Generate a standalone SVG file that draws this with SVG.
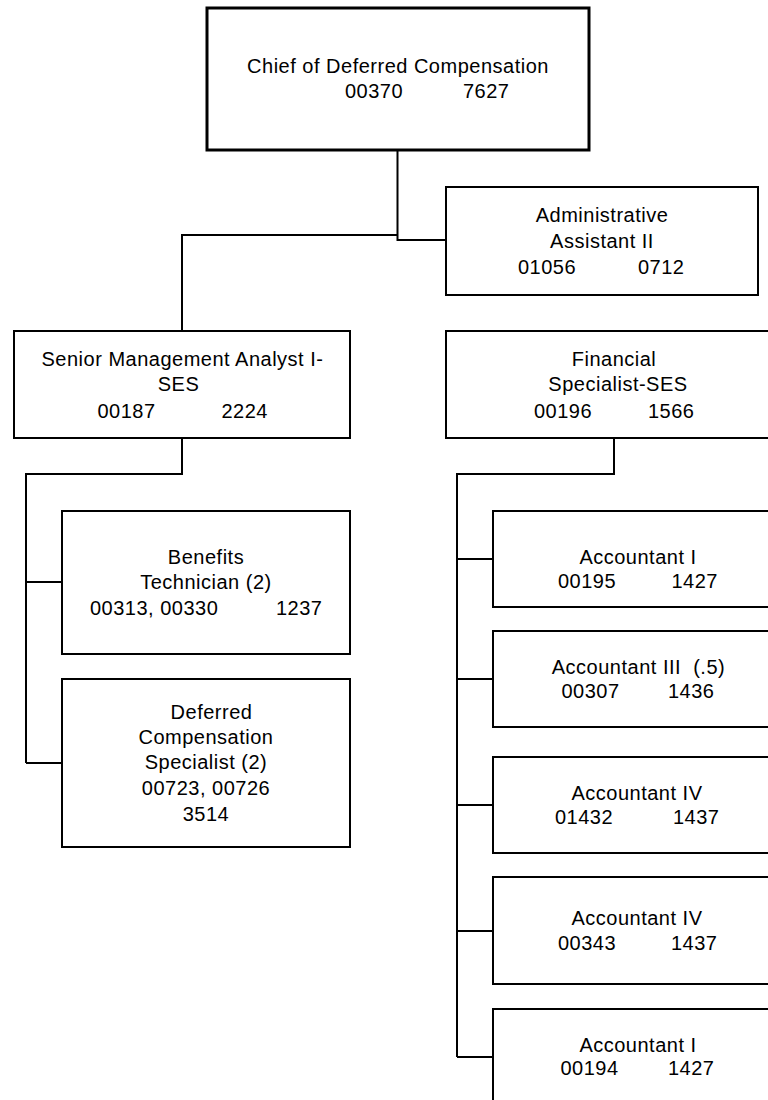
<svg xmlns="http://www.w3.org/2000/svg" width="768" height="1100" viewBox="0 0 768 1100">
  <style>
    .box { fill: #ffffff; stroke: #000000; stroke-width: 2; }
    .box-main { fill: #ffffff; stroke: #000000; stroke-width: 3; }
    .conn { fill: none; stroke: #000000; stroke-width: 2; }
    text { font-family: "Liberation Sans", Arial, sans-serif; font-size: 20px; letter-spacing: 0.5px; fill: #000000; }
    .c { text-anchor: middle; }
  </style>
  <rect width="768" height="1100" fill="#ffffff"/>

  <!-- reporting lines -->
  <g id="connectors">
    <path class="conn" d="M397.5 151 V240 H446"/>
    <path class="conn" d="M397.5 235 H182 V331"/>
    <path class="conn" d="M182 438 V474 H26 V763"/>
    <path class="conn" d="M26 582 H62"/>
    <path class="conn" d="M26 763 H62"/>
    <path class="conn" d="M614 438 V474 H457 V1057"/>
    <path class="conn" d="M457 559 H493"/>
    <path class="conn" d="M457 679 H493"/>
    <path class="conn" d="M457 805 H493"/>
    <path class="conn" d="M457 931 H493"/>
    <path class="conn" d="M457 1057 H493"/>
  </g>

  <g id="chief">
    <rect class="box-main" x="207" y="8" width="382" height="142"/>
    <text class="c" x="398" y="73">Chief of Deferred Compensation</text>
    <text x="345" y="97.5">00370</text>
    <text x="463" y="97.5">7627</text>
  </g>

  <g id="admin-assistant">
    <rect class="box" x="446" y="187" width="312" height="108"/>
    <text class="c" x="602" y="221.5">Administrative</text>
    <text class="c" x="602" y="247.5">Assistant II</text>
    <text x="518" y="273.5">01056</text>
    <text x="638" y="273.5">0712</text>
  </g>

  <g id="senior-analyst">
    <rect class="box" x="14" y="331" width="336" height="107"/>
    <text class="c" x="182.5" y="366">Senior Management Analyst I-</text>
    <text class="c" x="178.5" y="390.5">SES</text>
    <text x="97.5" y="417.5">00187</text>
    <text x="221.5" y="417.5">2224</text>
  </g>

  <g id="financial-specialist">
    <rect class="box" x="446" y="331" width="336" height="107"/>
    <text class="c" x="614" y="365.5">Financial</text>
    <text class="c" x="618" y="390.5">Specialist-SES</text>
    <text x="534" y="417.5">00196</text>
    <text x="648" y="417.5">1566</text>
  </g>

  <g id="benefits-technician">
    <rect class="box" x="62" y="511" width="288" height="143"/>
    <text class="c" x="206" y="564">Benefits</text>
    <text class="c" x="206" y="588.5">Technician (2)</text>
    <text x="90" y="614.5">00313, 00330</text>
    <text x="276" y="614.5">1237</text>
  </g>

  <g id="deferred-comp-specialist">
    <rect class="box" x="62" y="679" width="288" height="168"/>
    <text class="c" x="211.5" y="719">Deferred</text>
    <text class="c" x="206" y="744">Compensation</text>
    <text class="c" x="206" y="769">Specialist (2)</text>
    <text class="c" x="206" y="795">00723, 00726</text>
    <text class="c" x="206" y="820.5">3514</text>
  </g>

  <g id="accountant-i-00195">
    <rect class="box" x="493" y="511" width="290" height="96"/>
    <text class="c" x="638" y="563.5">Accountant I</text>
    <text x="558" y="587.5">00195</text>
    <text x="671.5" y="587.5">1427</text>
  </g>

  <g id="accountant-iii-00307">
    <rect class="box" x="493" y="631" width="290" height="96"/>
    <text class="c" x="638.5" y="673.5">Accountant III&#160; (.5)</text>
    <text x="561.5" y="697.5">00307</text>
    <text x="668" y="697.5">1436</text>
  </g>

  <g id="accountant-iv-01432">
    <rect class="box" x="493" y="757" width="290" height="96"/>
    <text class="c" x="637" y="799.5">Accountant IV</text>
    <text x="555" y="823.5">01432</text>
    <text x="673" y="823.5">1437</text>
  </g>

  <g id="accountant-iv-00343">
    <rect class="box" x="493" y="877" width="290" height="107"/>
    <text class="c" x="637" y="924.5">Accountant IV</text>
    <text x="558" y="950">00343</text>
    <text x="671" y="950">1437</text>
  </g>

  <g id="accountant-i-00194">
    <rect class="box" x="493" y="1009" width="290" height="96"/>
    <text class="c" x="638" y="1051.5">Accountant I</text>
    <text x="560.5" y="1075">00194</text>
    <text x="668" y="1075">1427</text>
  </g>
</svg>
